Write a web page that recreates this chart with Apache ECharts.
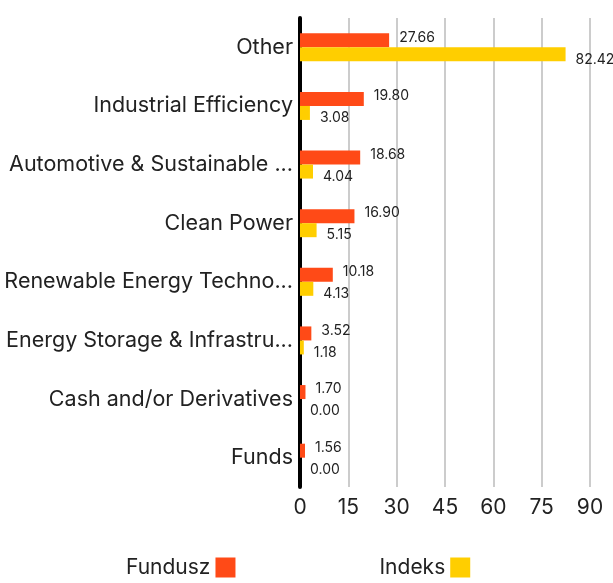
<!DOCTYPE html>
<html>
<head>
<meta charset="utf-8">
<script src="https://cdn.jsdelivr.net/npm/echarts@6/dist/echarts.min.js"></script>
<style>
  html, body { margin: 0; padding: 0; background: #fff; }
  #chart { width: 613px; height: 583px; }
</style>
</head>
<body>
<div id="chart"></div>
<script>
// category labels as they appear (already shortened in the source picture)
const categories = [
  "Other",
  "Industrial Efficiency",
  "Automotive & Sustainable ...",
  "Clean Power",
  "Renewable Energy Techno...",
  "Energy Storage & Infrastru...",
  "Cash and/or Derivatives",
  "Funds"
];
const fundValues = [27.66, 19.80, 18.68, 16.90, 10.18, 3.52, 1.70, 1.56];
const indexValues = [82.42, 3.08, 4.04, 5.15, 4.13, 1.18, 0.00, 0.00];
const xTicks = [0, 15, 30, 45, 60, 75, 90];

const FONT = "Inter, 'Noto Sans', sans-serif";
const chart = echarts.init(document.getElementById("chart"));

const option = {
  animation: false,
  grid: { left: 300, right: 23, top: 18, bottom: 96, containLabel: false },
  legend: {
    bottom: 0,
    left: 121,
    align: "right",
    itemWidth: 20,
    itemHeight: 20,
    itemGap: 144,
    icon: "rect",
    textStyle: { fontFamily: FONT, fontSize: 21, color: "#222" },
    data: ["Fundusz", "Indeks"]
  },
  xAxis: {
    type: "value",
    min: xTicks[0],
    max: xTicks[xTicks.length - 1],
    interval: 15,
    axisLine: { show: false },
    axisTick: { show: false },
    splitLine: { lineStyle: { color: "#cccccc", width: 2 } },
    axisLabel: { fontFamily: FONT, fontSize: 21, color: "#222", margin: 10 }
  },
  yAxis: {
    type: "category",
    inverse: true,
    data: categories,
    axisLine: { show: true, lineStyle: { color: "#000", width: 4 } },
    axisTick: { show: false },
    axisLabel: {
      fontFamily: FONT,
      fontSize: 21.5,
      color: "#222",
      margin: 7
    }
  },
  series: [
    {
      name: "Fundusz",
      type: "bar",
      data: fundValues,
      barWidth: 14,
      barGap: "0%",
      itemStyle: { color: "#FF4A17" },
      label: {
        show: true,
        position: "right",
        distance: 10,
        offset: [0, -3],
        fontFamily: FONT,
        fontSize: 14,
        color: "#222",
        formatter: (p) => p.value.toFixed(2)
      }
    },
    {
      name: "Indeks",
      type: "bar",
      data: indexValues,
      barWidth: 14,
      itemStyle: { color: "#FFCE00" },
      label: {
        show: true,
        position: "right",
        distance: 10,
        offset: [0, 5],
        fontFamily: FONT,
        fontSize: 14,
        color: "#222",
        formatter: (p) => p.value.toFixed(2)
      }
    }
  ]
};

chart.setOption(option);
</script>
</body>
</html>
